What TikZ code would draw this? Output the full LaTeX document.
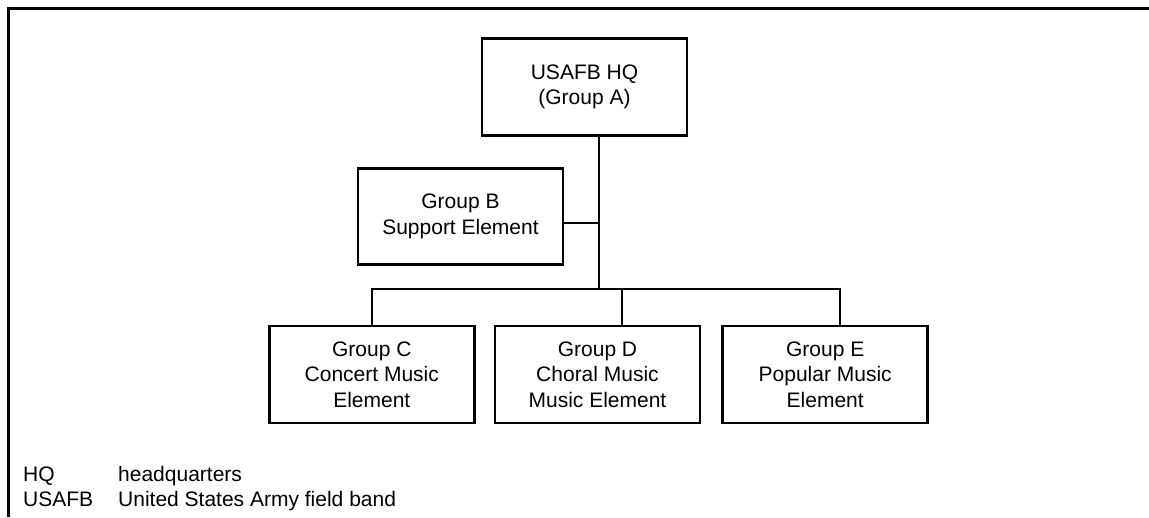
\documentclass[tikz,border=0pt]{standalone}
\usepackage{fontspec}
\setmainfont{Liberation Sans}
\usepackage{tikz}
\usetikzlibrary{calc, positioning}
\tikzset{
    unit/.style={rectangle, draw=black, line width=2.7pt, fill=white, align=center, minimum width=205pt, minimum height=97pt, inner sep=0pt, font=\fontsize{21}{25.5}\selectfont},
    link/.style={draw=black, line width=2.4pt},
    frame/.style={draw=black, line width=3pt},
    legend/.style={inner sep=0pt, anchor=base west, font=\fontsize{21}{25}\selectfont}
}
\begin{document}
\begin{tikzpicture}[x=1pt, y=-1pt]
        \useasboundingbox (0,0) rectangle (1149,517);
        \draw[frame] (8,517) -- (8,8) -- (1149,8);

        % Headquarters
        \node[unit] (HQ) at (584.5,87) {USAFB HQ\\(Group A)};

        % Support
        \node[unit, below=30pt of HQ, xshift=-124pt, minimum height=96pt] (GroupB) {Group B\\Support Element};

        % Music elements
        \node[unit] (GroupD) at (597.5,374.5) {Group D\\Choral Music\\Music Element};
        \node[unit, left=18pt of GroupD] (GroupC) {Group C\\Concert Music\\Element};
        \node[unit, right=20pt of GroupD] (GroupE) {Group E\\Popular Music\\Element};

        % Connectors
        \coordinate (Trunk) at ([xshift=14.5pt]HQ.south);
        \coordinate (Bar) at (599,289);
        \coordinate (BJoin) at ([yshift=-7pt]GroupB.east);
        \coordinate (DDrop) at ([xshift=24.5pt]GroupD.north);
        \coordinate (EDrop) at ([xshift=15pt]GroupE.north);
        \draw[link] (Trunk) -- (Bar);
        \draw[link] (BJoin) -- (BJoin -| Trunk);
        \draw[link] (GroupC.north) |- (Bar) -| (EDrop);
        \draw[link] (DDrop) -- (DDrop |- Bar);

        % Abbreviations
        \node[legend] (HQKey) at (23,481) {HQ};
        \node[legend] (HQText) at (118,481) {headquarters};
        \node[legend] (USAFBKey) at (23,506) {USAFB};
        \node[legend] (USAFBText) at (118,506) {United States Army field band};
    \end{tikzpicture}
\end{document}
